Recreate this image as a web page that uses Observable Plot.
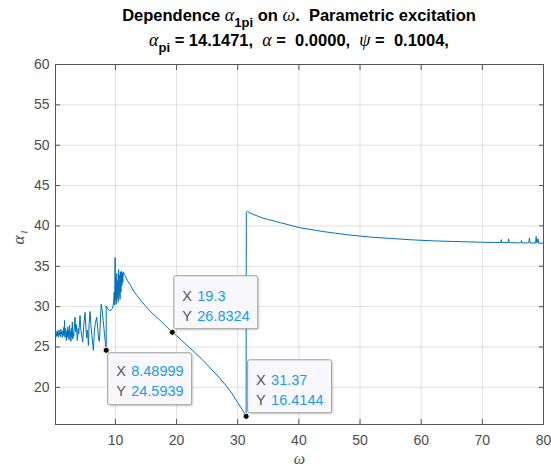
<!DOCTYPE html>
<html><head><meta charset="utf-8">
<script src="https://cdn.jsdelivr.net/npm/d3@7"></script>
<script src="https://cdn.jsdelivr.net/npm/@observablehq/plot@0.6"></script>
<style>
body{margin:0;background:#fff;}
#wrap{width:551px;height:470px;position:relative;font-family:"Liberation Sans",Arial,sans-serif;}
#title{height:44px;position:relative;}
.t{position:absolute;left:55px;width:488px;text-align:center;font-weight:bold;font-size:16.5px;color:#000;white-space:pre;line-height:18px;}
.g{font-family:"Liberation Serif","DejaVu Serif",serif;font-style:italic;font-weight:normal;font-size:18px;}
.t sub{font-size:13px;vertical-align:-6px;line-height:0;}
</style></head>
<body>
<div id="wrap">
<div id="title">
<div class="t" style="top:6px">Dependence <span class="g">α</span><sub>1pi</sub> on <span class="g">ω</span>.  Parametric excitation</div>
<div class="t" style="top:31px"><span class="g">α</span><sub>pi</sub> = 14.1471,  <span class="g">α</span> =  0.0000,  <span class="g">ψ</span> =  0.1004,</div>
</div>
<div id="chart"></div>
</div>
<script>
// ---- data ----
const omega = [0.30,0.35,0.45,0.55,0.62,0.70,0.78,0.85,0.92,1.00,1.08,1.15,1.22,1.30,1.38,1.45,1.52,1.60,1.68,1.75,1.82,1.90,1.98,2.05,2.12,2.20,2.28,2.35,2.42,2.50,2.58,2.65,2.72,2.80,2.88,2.95,3.02,3.10,3.18,
  3.39,3.50,3.60,3.77,3.90,4.00,4.21,4.35,4.50,4.65,4.80,5.03,5.15,5.30,5.45,5.58,5.70,5.85,6.00,6.15,6.40,6.55,6.70,6.95,7.10,7.25,7.38,7.50,7.66,7.80,8.00,8.20,8.35,8.48999,
  8.50,8.70,9.00,9.30,9.55,9.70,9.80,9.88,9.95,10.00,10.08,10.15,10.22,10.30,10.38,10.45,10.52,10.60,10.68,10.75,10.82,10.90,10.98,11.05,11.12,11.20,11.30,11.45,11.60,
  12.0,12.5,13.0,13.5,14.0,14.5,15.0,15.5,16.0,16.5,17.0,17.5,18.0,18.5,19.3,20.0,21.0,22.0,23.0,24.0,25.0,26.0,27.0,28.0,29.0,30.0,30.7,31.37,
  31.40,31.60,32.0,33.0,34.0,35.0,36.0,37.0,38.0,39.0,40.0,42.0,44.0,46.0,48.0,50.0,52.0,55.0,58.0,60.0,62.0,65.0,68.0,70.0,72.0,
  73.0,73.1,73.2,74.2,74.3,74.4,76.3,76.4,76.5,77.6,77.7,77.8,78.7,78.8,78.9,79.1,79.2,80.0];
const alpha1 = [26.7,26.3,27.0,26.4,26.9,26.2,27.1,26.5,26.8,26.3,27.2,26.6,26.9,26.2,27.0,26.4,27.4,26.5,28.3,26.2,27.3,26.6,25.8,27.0,26.3,27.5,26.1,27.1,25.9,27.7,26.4,26.9,25.7,27.3,26.2,28.1,26.0,26.8,26.3,
  28.7,26.9,27.8,25.8,27.3,26.6,28.9,27.1,26.4,25.6,27.5,29.3,27.7,26.1,27.1,25.2,27.9,29.4,27.6,26.4,24.6,26.9,27.9,28.7,27.3,26.0,25.7,27.6,30.3,29.7,28.3,26.7,25.6,24.5939,
  30.1,29.8,29.5,29.6,29.8,30.6,31.8,30.2,36.1,30.8,33.6,30.3,34.1,31.0,33.2,30.6,34.6,31.4,33.9,30.9,34.3,31.8,34.4,32.6,34.2,33.0,34.3,34.0,33.8,
  33.2,32.6,31.9,31.4,30.9,30.45,30.0,29.6,29.2,28.85,28.5,28.15,27.8,27.4,26.8324,26.4,25.7,25.0,24.3,23.6,22.8,22.0,21.2,20.3,19.3,18.1,17.3,16.4144,
  41.7,41.8,41.6,41.3,41.0,40.8,40.6,40.4,40.2,40.0,39.8,39.55,39.3,39.1,38.9,38.75,38.6,38.45,38.3,38.22,38.15,38.08,38.02,37.98,37.95,
  37.94,38.3,37.94,37.93,38.4,37.93,37.9,38.2,37.9,37.89,38.5,37.89,37.88,38.7,37.88,38.4,37.87,37.85];
const xTicks = [10,20,30,40,50,60,70,80];
const yTicks = [20,25,30,35,40,45,50,55,60];
const tipOmega = [8.48999, 19.3, 31.37];
const tipAlpha = [24.5939, 26.8324, 16.4144];
const tipSide = ["below", "above", "above"];

const series = omega.map((w, i) => ({w, a: alpha1[i]}));
const tips = tipOmega.map((w, i) => ({w, a: tipAlpha[i], side: tipSide[i],
  lab: "X\nY", val: String(w) + "\n" + String(tipAlpha[i])}));
const above = tips.filter(d => d.side === "above");
const below = tips.filter(d => d.side === "below");

const txt = "#4d4d4d";
const font = "'Liberation Sans', Arial, sans-serif";
const boxStyle = {x1: "w", x2: "w", y1: "a", y2: "a", fill: "#f8f8fc", stroke: "#9a9a9a", strokeWidth: 1, rx: 2, insetLeft: 2, insetRight: -86};
const shadowStyle = {x1: "w", x2: "w", y1: "a", y2: "a", fill: "#000", fillOpacity: 0.10, rx: 2, insetLeft: 4, insetRight: -88};

const chart = Plot.plot({
  width: 551, height: 426,
  marginTop: 20, marginBottom: 46, marginLeft: 55, marginRight: 8,
  style: {fontFamily: font, fontSize: "14px", color: txt, background: "#fff"},
  x: {domain: [0.2, 80]},
  y: {domain: [15.4, 60]},
  marks: [
    Plot.gridX(xTicks, {stroke: "#000", strokeOpacity: 0.12}),
    Plot.gridY(yTicks, {stroke: "#000", strokeOpacity: 0.12}),
    Plot.line(series, {x: "w", y: "a", stroke: "#0072BD", strokeWidth: 1}),
    Plot.frame({stroke: "#555", strokeWidth: 1}),
    Plot.axisX(xTicks, {anchor: "bottom", tickSize: -5, fill: "none", stroke: "#555", label: null}),
    Plot.axisX(xTicks, {anchor: "top", tickSize: -5, fill: "none", stroke: "#555", label: null}),
    Plot.axisY(yTicks, {anchor: "left", tickSize: -5, fill: "none", stroke: "#555", label: null}),
    Plot.axisY(yTicks, {anchor: "right", tickSize: -5, fill: "none", stroke: "#555", label: null}),
    Plot.axisX(xTicks, {anchor: "bottom", tickSize: 0, tickPadding: 11, fill: txt, label: null, fontSize: 14}),
    Plot.axisY(yTicks, {anchor: "left", tickSize: 0, tickPadding: 6, fill: txt, label: null, fontSize: 14}),
    Plot.text(["α₁"], {frameAnchor: "left", dx: -37, rotate: -90, fill: txt, fontSize: 17, fontFamily: "'Liberation Serif', serif", fontStyle: "italic"}),
    Plot.text(["ω"], {frameAnchor: "bottom", dy: 39, fill: txt, fontSize: 16, fontFamily: "'Liberation Serif', serif", fontStyle: "italic"}),
    // datatip boxes
    Plot.rect(above, {...shadowStyle, insetTop: -54, insetBottom: 1}),
    Plot.rect(below, {...shadowStyle, insetTop: 5, insetBottom: -57}),
    Plot.rect(above, {...boxStyle, insetTop: -56, insetBottom: 3}),
    Plot.rect(below, {...boxStyle, insetTop: 3, insetBottom: -55}),
    Plot.text(above, {x: "w", y: "a", text: "lab", dx: 10, dy: -28, textAnchor: "start", lineHeight: 1.4, fill: "#555", fontSize: 14.5}),
    Plot.text(above, {x: "w", y: "a", text: "val", dx: 25, dy: -28, textAnchor: "start", lineHeight: 1.4, fill: "#1a9bf0", fontSize: 14.5}),
    Plot.text(below, {x: "w", y: "a", text: "lab", dx: 10, dy: 29.5, textAnchor: "start", lineHeight: 1.4, fill: "#555", fontSize: 14.5}),
    Plot.text(below, {x: "w", y: "a", text: "val", dx: 25, dy: 29.5, textAnchor: "start", lineHeight: 1.4, fill: "#1a9bf0", fontSize: 14.5}),
    Plot.dot(tips, {x: "w", y: "a", r: 3, fill: "#000", stroke: "#f4f0c0", strokeWidth: 1})
  ]
});
document.getElementById("chart").appendChild(chart);
</script>
</body></html>
